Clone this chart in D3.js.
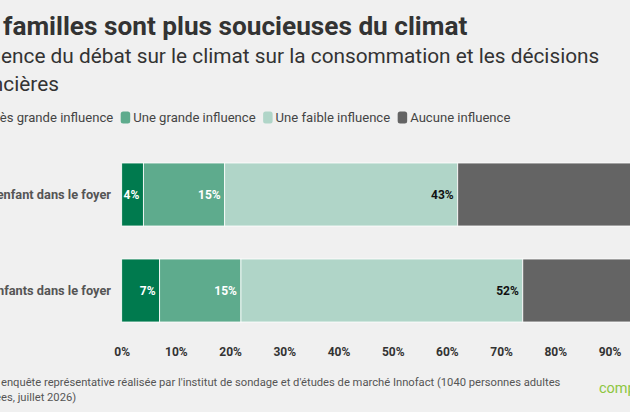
<!DOCTYPE html>
<html><head><meta charset="utf-8">
<script src="https://cdn.jsdelivr.net/npm/d3@7/dist/d3.min.js"></script>
<style>
html,body{margin:0;padding:0;background:#f0f0f0;overflow:hidden;}
svg{display:block;font-family:Roboto,"Noto Sans",sans-serif;}
</style></head><body>
<svg id="c" width="630" height="412"></svg>
<script>
const title = "Les familles sont plus soucieuses du climat";
const subtitleLines = ["Influence du débat sur le climat sur la consommation et les décisions", "financières"];
const categories = ["Un enfant dans le foyer", "Deux enfants dans le foyer"];
const seriesNames = ["Très grande influence", "Une grande influence", "Une faible influence", "Aucune influence"];
const seriesColors = ["#007a4e", "#5eab8d", "#b0d5c8", "#646464"];
const labelColors = ["#ffffff", "#ffffff", "#111111", "#ffffff"];
const veryHigh = [4, 7];
const high = [15, 15];
const low = [43, 52];
const none = [38, 26];
const tickValues = [0, 10, 20, 30, 40, 50, 60, 70, 80, 90, 100];
const sourceLines = ["Source : enquête représentative réalisée par l'institut de sondage et d'études de marché Innofact (1040 personnes adultes", "interrogées, juillet 2026)"];

const svg = d3.select("#c");
svg.append("rect").attr("width", 630).attr("height", 412).attr("fill", "#f0f0f0");

// place a text so that character #idx starts at pixel xTarget
function placeAt(sel, idx, xTarget) {
  sel.attr("x", 0);
  const p = sel.node().getStartPositionOfChar(idx).x;
  sel.attr("x", xTarget - p);
  return sel;
}

// Title
const t1 = svg.append("text").attr("y", 34.5).attr("font-size", 26.2).attr("font-weight", 700)
  .attr("fill", "#333").text(title);
placeAt(t1, 4, 3);

// Subtitle
const sSize = 20.8;
const s1 = svg.append("text").attr("y", 63).attr("font-size", sSize).attr("fill", "#333").text(subtitleLines[0]);
placeAt(s1, 5, 1);
const s2 = svg.append("text").attr("y", 90.5).attr("font-size", sSize).attr("fill", "#333").text(subtitleLines[1]);
placeAt(s2, 5, 3.3);

// Legend
const legendSize = 13.1;
const swW = 9.5, gapST = 3, gapItem = 7.5;
const lg = svg.append("g").selectAll("g").data(seriesNames).join("g");
lg.append("rect").attr("x", 0).attr("y", 111.5).attr("width", swW).attr("height", 12)
  .attr("rx", 2.5).attr("fill", (d, i) => seriesColors[i]);
lg.append("text").attr("x", swW + gapST).attr("y", 122).attr("font-size", legendSize)
  .attr("fill", "#444").text(d => d);
const textWidths = [];
lg.select("text").each(function () { textWidths.push(this.getComputedTextLength()); });
const xs = [];
xs[1] = 120.7;
xs[0] = xs[1] - gapItem - textWidths[0] - gapST - swW;
for (let i = 2; i < seriesNames.length; i++) xs[i] = xs[i - 1] + swW + gapST + textWidths[i - 1] + gapItem;
lg.attr("transform", (d, i) => `translate(${xs[i]},0)`);

// Scales
const x = d3.scaleLinear().domain([0, 100]).range([121.7, 663.7]);
const y = d3.scaleBand().domain(categories).range([146.5, 338.5]).paddingInner(0.34375).paddingOuter(0.171875);

const rows = categories.map((c, i) => ({cat: c, vals: [veryHigh[i], high[i], low[i], none[i]]}));
const stackData = rows.map(r => { const o = {cat: r.cat}; seriesNames.forEach((s, j) => o[s] = r.vals[j]); return o; });
const stacked = d3.stack().keys(seriesNames)(stackData);

const layers = svg.append("g").selectAll("g").data(stacked).join("g")
  .attr("fill", (d, i) => seriesColors[i]);
layers.selectAll("rect").data(d => d).join("rect")
  .attr("x", d => x(d[0])).attr("y", d => y(d.data.cat))
  .attr("width", d => x(d[1]) - x(d[0])).attr("height", y.bandwidth())
  .attr("stroke", "#ffffff").attr("stroke-width", 0.8);

// Value labels
stacked.forEach((layer, i) => {
  svg.append("g").selectAll("text").data(layer).join("text")
    .attr("x", d => x(d[1]) - 4).attr("y", d => y(d.data.cat) + y.bandwidth() / 2)
    .attr("dy", "0.36em").attr("text-anchor", "end")
    .attr("font-size", 12).attr("font-weight", 700).attr("fill", labelColors[i])
    .text(d => (d[1] - d[0]) + "%");
});

// Category labels
svg.append("g").selectAll("text").data(categories).join("text")
  .attr("x", 111).attr("y", d => y(d) + y.bandwidth() / 2).attr("dy", "0.36em")
  .attr("text-anchor", "end").attr("font-size", 12.8).attr("font-weight", 700)
  .attr("fill", "#555").text(d => d);

// X axis
const axis = svg.append("g").attr("transform", "translate(0,343)")
  .call(d3.axisBottom(x).tickValues(tickValues).tickSize(0).tickPadding(0).tickFormat(d => d + "%"));
axis.select(".domain").remove();
axis.selectAll("text").attr("font-size", 12).attr("font-weight", 700).attr("fill", "#333")
  .attr("font-family", "Roboto, sans-serif").attr("dy", "0.71em").attr("y", 4);

// Source
const srcSize = 11.2;
const f1 = svg.append("text").attr("y", 385.5).attr("font-size", srcSize).attr("fill", "#555").text(sourceLines[0]);
placeAt(f1, 9, 1);
const f2 = svg.append("text").attr("y", 400.5).attr("font-size", srcSize).attr("fill", "#555").text(sourceLines[1]);
placeAt(f2, 9, 1);

// Logo
svg.append("text").attr("x", 599).attr("y", 393).attr("font-size", 14.5)
  .attr("fill", "#8dc63f").text("comparis");
</script>
</body></html>
